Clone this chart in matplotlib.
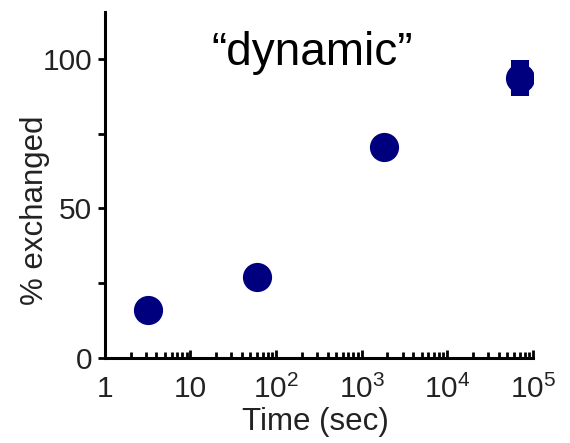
import numpy as np
import matplotlib
matplotlib.use('Agg')
import matplotlib.pyplot as plt
from matplotlib.ticker import FixedLocator, LogLocator, NullFormatter

plt.rcParams['font.family'] = ['Liberation Sans', 'DejaVu Sans']
plt.rcParams['mathtext.fontset'] = 'custom'
plt.rcParams['mathtext.rm'] = 'Liberation Sans'

# данные
time_sec = [3.2, 60, 1800, 70000]
exchanged = [16, 27, 70.5, 93.5]
err = [0, 2, 0, 6]
xtick_vals = [1, 10, 100, 1000, 10000, 100000]
xtick_labels = ['1', '10', r'$\mathregular{10^2}$', r'$\mathregular{10^3}$',
                r'$\mathregular{10^4}$', r'$\mathregular{10^5}$']
ytick_vals = [0, 50, 100]

fig = plt.figure(figsize=(5.7, 4.43), dpi=100)
ax = fig.add_axes([0.184, 0.192, 0.751, 0.781])

navy = '#00007f'
ax.errorbar(time_sec, exchanged, yerr=err, fmt='none', ecolor=navy,
            elinewidth=13, capsize=0, zorder=2)
ax.plot(time_sec, exchanged, 'o', color=navy, markersize=20, zorder=3)

ax.set_xscale('log')
ax.set_xlim(1, 1e5)
ax.set_ylim(0, 115.7)

ax.set_xticks(xtick_vals)
ax.set_xticklabels(xtick_labels, fontsize=21.5, color='#222222')
ax.xaxis.set_minor_locator(LogLocator(base=10, subs=np.arange(2, 10)))
ax.xaxis.set_minor_formatter(NullFormatter())
ax.tick_params(axis='x', which='major', direction='in', length=6, width=2, pad=12)
ax.tick_params(axis='x', which='minor', direction='in', length=4, width=2)

ax.set_yticks(ytick_vals)
ax.set_yticklabels([str(v) for v in ytick_vals], fontsize=21.5, color='#222222')
ax.yaxis.set_minor_locator(FixedLocator([25, 75]))
ax.tick_params(axis='y', which='both', direction='out', length=5, width=2, pad=4)

for s in ['top', 'right']:
    ax.spines[s].set_visible(False)
for s in ['left', 'bottom']:
    ax.spines[s].set_linewidth(2.2)

ax.set_xlabel('Time (sec)', fontsize=22.5, color='#222222')
ax.set_ylabel('% exchanged', fontsize=22.5, color='#222222')
ax.xaxis.set_label_coords(0.492, -0.142)
ax.yaxis.set_label_coords(-0.128, 0.428)

# подпись в пикселях (от нижнего края)
ax.text(312, 443 - 65, '\u201cdynamic\u201d', fontsize=33, ha='center',
        va='baseline', transform=None)

fig.savefig('out.png', dpi=100)
